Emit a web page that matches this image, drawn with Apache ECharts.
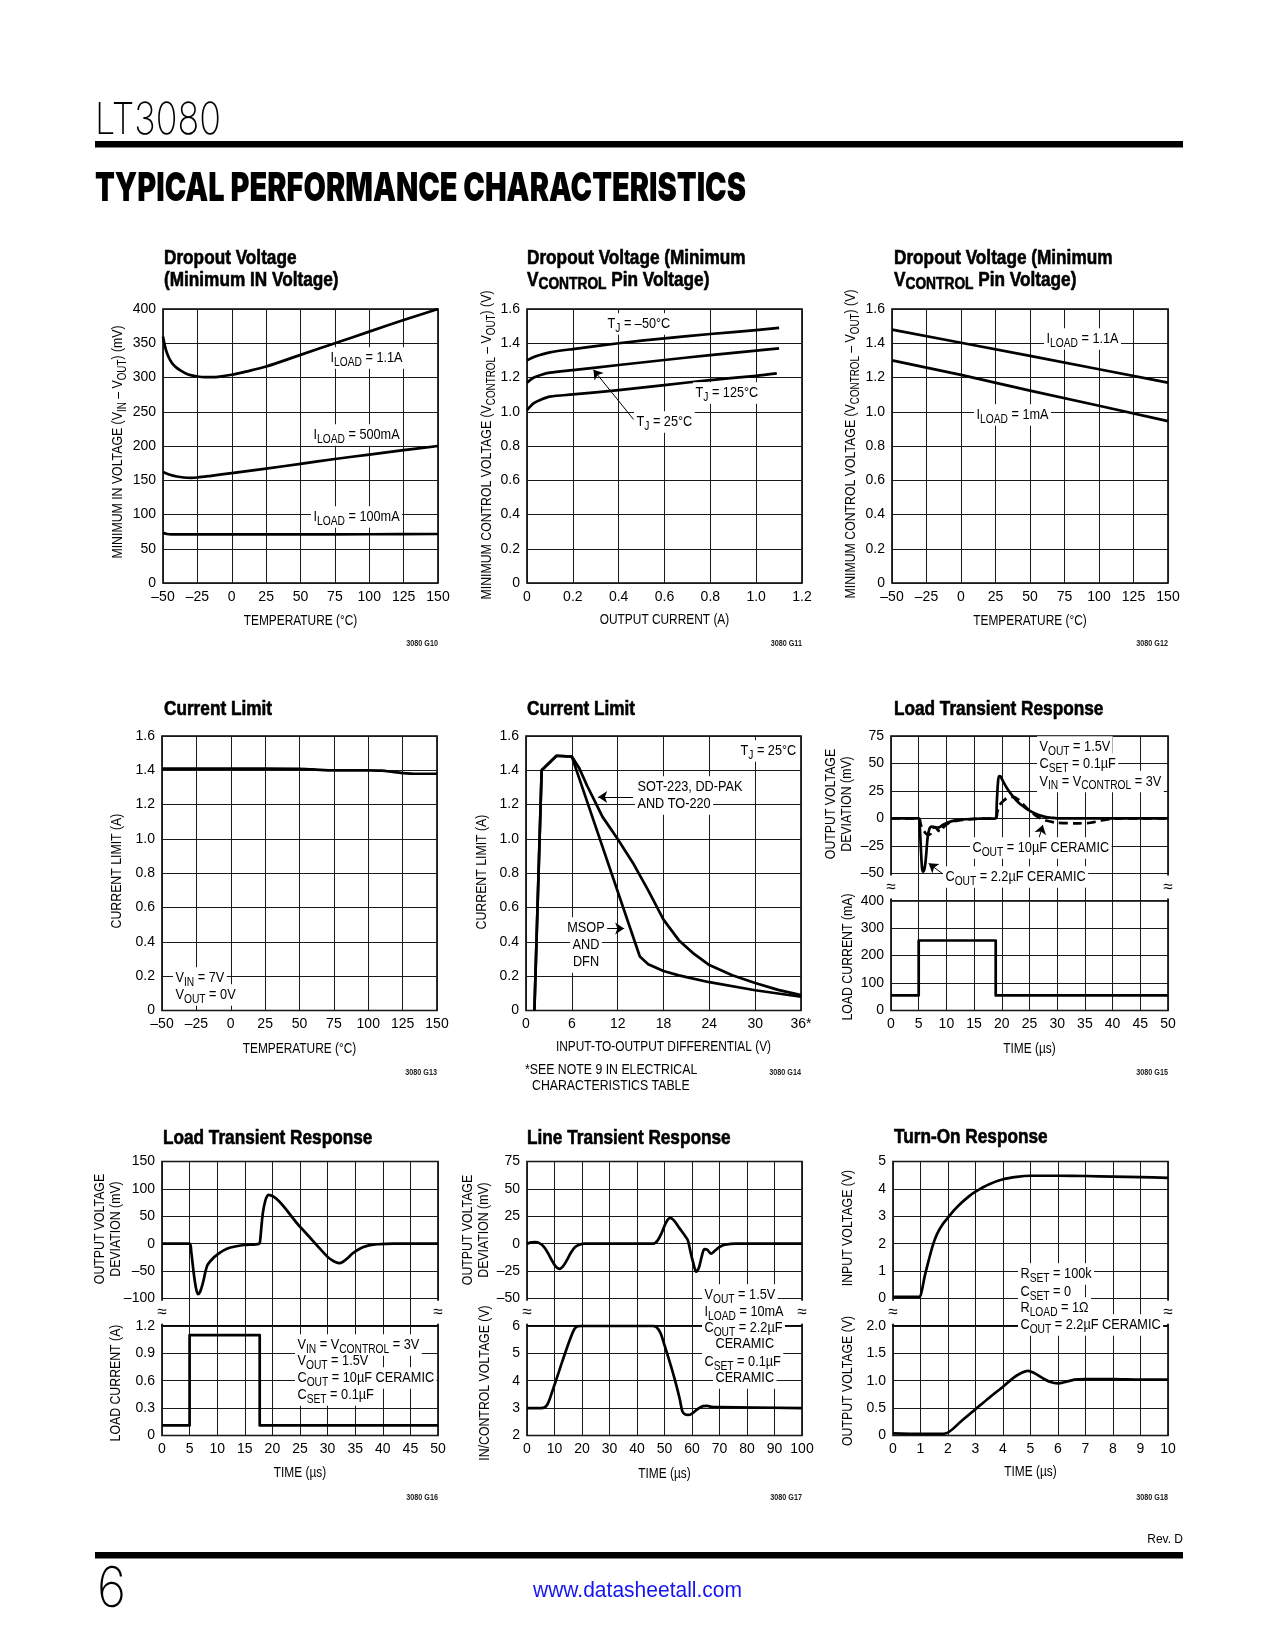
<!DOCTYPE html>
<html><head><meta charset="utf-8">
<script src="https://cdn.jsdelivr.net/npm/echarts@6/dist/echarts.min.js"></script>
<style>html,body{margin:0;padding:0;background:#fff}#c{width:1275px;height:1650px}</style>
</head><body><div id="c"></div>
<script>
// ================= DATA =================
// Chart 1: Dropout voltage (minimum IN voltage) vs temperature
const c1Load1A1 = [[-50,360],[-48.5,345],[-47,335],[-45,326],[-43,320],[-40,314],[-37,310],[-33,305.5],[-30,303.5],[-25,301.5],[-20,300.5],[-15,300.5],[-10,301],[0,304],[10,308.5],[25,316],[50,333],[75,350],[100,367],[125,384],[150,400]];
const c1Load500m = [[-50,162],[-45,158],[-40,155.5],[-35,154],[-30,153.5],[-25,154],[-15,156.5],[0,160.5],[25,167],[50,174],[75,181],[100,187.5],[125,194],[150,200]];
const c1Load100m = [[-50,73.5],[-47,71.5],[-44,71],[0,71],[50,71],[100,71.2],[150,71.5]];
// Chart 2: Min VCONTROL vs output current
const c2TjM50 = [[0,1.30],[0.03,1.32],[0.06,1.333],[0.1,1.347],[0.2,1.366],[0.4,1.40],[0.6,1.429],[0.8,1.454],[1.0,1.477],[1.1,1.49]];
const c2Tj25 = [[0,1.17],[0.03,1.20],[0.06,1.215],[0.1,1.228],[0.2,1.243],[0.4,1.273],[0.6,1.302],[0.8,1.331],[1.0,1.357],[1.1,1.37]];
const c2Tj125 = [[0,1.01],[0.03,1.05],[0.06,1.07],[0.1,1.088],[0.2,1.101],[0.4,1.126],[0.6,1.156],[0.8,1.185],[1.0,1.21],[1.09,1.224]];
// Chart 3: Min VCONTROL vs temperature
const c3Load1A1 = [[-50,1.48],[0,1.403],[50,1.326],[100,1.248],[150,1.17]];
const c3Load1mA = [[-50,1.30],[0,1.215],[50,1.123],[100,1.035],[150,0.945]];
// Chart 4: Current limit vs temperature
const c4Limit = [[-50,1.41],[0,1.41],[50,1.408],[60,1.405],[75,1.40],[100,1.40],[110,1.398],[118,1.39],[125,1.384],[135,1.38],[150,1.38]];
// Chart 5: Current limit vs input-output differential
const c5Sot = [[1.1,0],[2.05,1.40],[4.0,1.485],[6.0,1.48],[7,1.41],[8,1.31],[9,1.22],[10,1.13],[12,1.0],[14,0.86],[16,0.70],[18,0.53],[20,0.41],[22,0.33],[24,0.265],[27,0.205],[30,0.16],[33,0.12],[36,0.09]];
const c5Msop = [[1.1,0],[2.05,1.40],[4.0,1.485],[6.0,1.48],[14.9,0.315],[16,0.27],[18,0.23],[20,0.205],[24,0.165],[30,0.118],[36,0.08]];
const c5XTickLabels = ['0','6','12','18','24','30','36*'];
// Chart 6: Load transient (output deviation mV, load current mA)
const c6Vout22 = [[0,0],[5,0],[5.2,-8],[5.4,-28],[5.6,-45],[5.8,-48.5],[6.0,-47],[6.2,-41],[6.4,-30],[6.6,-18],[6.9,-10],[7.3,-7.5],[7.8,-8],[8.5,-8.5],[9.5,-5.5],[11,-2.5],[13,-1],[16,-0.3],[18.9,0],[19.1,15],[19.3,32],[19.5,38.5],[19.8,38],[20.3,33],[21,27],[22,20],[23,14.5],[24,10.5],[25,7],[26,4.5],[27,2.5],[28,1.2],[29,0.5],[30,0],[50,0]];
const c6Vout10 = [[0,0],[5,0],[5.4,-6],[6,-12],[6.6,-15],[7.2,-14],[7.6,-9],[8.0,-8],[8.5,-11],[9,-12],[9.5,-8],[10.5,-4],[12,-2],[15,-0.5],[18.9,0],[19.2,6],[19.6,12],[20.3,16],[21,18.5],[22,19.5],[23,17],[24,12],[25,7],[26,3],[27,0],[28,-2],[30,-4],[34,-4.5],[36,-4],[38,-2],[40,-0.5],[42,0],[50,0]];
const c6Iload = [[0,55],[5,55],[5,255],[18.9,255],[18.9,55],[50,55]];
// Chart 7: Load transient (10uF)
const c7Vout = [[0,0],[5,0],[5.3,-15],[5.7,-50],[6.1,-78],[6.5,-92],[6.9,-88],[7.4,-72],[8.2,-40],[9.2,-27],[10,-20],[11,-13],[12.4,-7],[14.8,-2.4],[17.6,0],[17.8,8],[18.0,30],[18.3,58],[18.7,78],[19.0,86],[19.3,89],[25,31],[30,-24],[30.8,-30],[31.5,-34],[32.1,-35.5],[32.8,-33],[33.6,-26.5],[34.5,-18],[35.5,-11],[36.5,-6],[37.5,-3],[39,-1],[42,0],[50,0]];
const c7Iload = [[0,0.11],[5,0.11],[5,1.1],[17.7,1.1],[17.7,0.11],[50,0.11]];
// Chart 8: Line transient
const c8Vout = [[0,0],[1.5,1.2],[3,1.5],[4.5,0.5],[6,-2.5],[7.5,-8],[9,-15],[10.5,-21],[11.8,-23],[13,-21],[14.5,-15],[16,-8],[17.5,-3],[19,-1],[21,0],[46,0],[47.5,3],[49,10],[50.5,19],[52,23.5],[53.5,21],[55.5,14],[57.5,7],[58.5,3],[59.5,-8],[60.5,-18],[61.5,-25.5],[62.5,-22],[63.5,-12],[64.5,-5],[65.5,-5.5],[67,-9],[68.5,-6],[70,-3],[72,-1],[76,0],[100,0]];
const c8Vin = [[0,3.0],[5,3.0],[6.5,3.03],[7.5,3.15],[8.5,3.4],[10,3.85],[12,4.45],[14,5.05],[16,5.6],[17.2,5.88],[18.5,5.99],[20,6.0],[45.5,6.0],[47,5.96],[48.5,5.75],[50,5.3],[52,4.65],[54,3.95],[55.5,3.35],[56.5,2.88],[57.5,2.77],[58.5,2.75],[60,2.8],[62,2.96],[64,3.07],[65.5,3.08],[67,3.05],[70,3.04],[100,3.0]];
// Chart 9: Turn-on response
const c9Vin = [[0,0.06],[0.95,0.06],[1.05,0.3],[1.15,0.8],[1.3,1.4],[1.45,1.95],[1.6,2.35],[1.8,2.7],[2.0,2.95],[2.25,3.25],[2.5,3.5],[2.75,3.72],[3.0,3.9],[3.5,4.17],[4.0,4.35],[4.5,4.44],[5,4.48],[6,4.48],[7,4.47],[8,4.45],[9,4.43],[10,4.4]];
const c9Vout = [[0,0.04],[1,0.03],[1.85,0.03],[2.5,0.27],[3,0.48],[3.5,0.69],[4,0.89],[4.4,1.06],[4.7,1.15],[4.9,1.18],[5.1,1.15],[5.4,1.06],[5.7,0.98],[6.0,0.95],[6.3,0.98],[6.6,1.02],[7,1.03],[8,1.03],[9,1.02],[10,1.02]];

// ================= STYLE / HELPERS =================
const SANS = '"Liberation Sans", Arial, sans-serif';
const NARROW = 0.82;
const TICK = 14;
const fmtNum = v => String(+v.toFixed(6)).replace('-', '\u2013');
const fmtDec = v => Math.abs(v) < 1e-9 ? '0' : v.toFixed(1);
const hideAt = (h, f) => v => Math.abs(v - h) < 1e-6 ? '' : f(v);

const grids = [], xAxes = [], yAxes = [], series = [];
function axis(i, min, max, interval, fmt, show) {
  return { type:'value', gridIndex:i, min, max, interval,
    axisLine:{show:false}, axisTick:{show:false},
    splitLine:{show:true, lineStyle:{color:'#1a1a1a', width:1}},
    axisLabel:{show: show !== false, formatter: fmt, fontFamily: SANS, fontSize: TICK, color:'#000', margin: 7} };
}
function panel(l, t, w, h, xa, ya) {
  const i = grids.length;
  grids.push({left:l, top:t, width:w, height:h, show:true, borderColor:'#000', borderWidth:1.6, backgroundColor:'rgba(0,0,0,0)'});
  xAxes.push(axis(i, xa[0], xa[1], xa[2], xa[3], xa[4]));
  yAxes.push(axis(i, ya[0], ya[1], ya[2], ya[3], ya[4]));
  return i;
}
function line(i, data, o) {
  o = o || {};
  const s = { type:'line', xAxisIndex:i, yAxisIndex:i, data, showSymbol:false, symbol:'none',
    smooth: o.smooth === undefined ? 0.3 : o.smooth, clip:true, silent:true, z:5,
    lineStyle:{color:'#000', width:2.7, type: o.dash ? [9,5] : 'solid', join:'round'} };
  if (o.arrows) {
    s.markLine = { silent:true, symbol:['none','arrow'], symbolSize:9, animation:false,
      lineStyle:{color:'#000', width:1, type:'solid'}, itemStyle:{color:'#000'}, label:{show:false},
      emphasis:{disabled:true},
      data: o.arrows.map(a => [{coord:a[0]}, {coord:a[1]}]) };
  }
  series.push(s);
}
function rt(s) {
  let out = '', last = 0, m; const re = /_\{([^}]*)\}/g;
  while ((m = re.exec(s))) {
    if (m.index > last) out += '{m|' + s.slice(last, m.index) + '}';
    out += '{s|' + m[1] + '}'; last = re.lastIndex;
  }
  if (last < s.length) out += '{m|' + s.slice(last) + '}';
  return out;
}
function T(x, y, s, o) {
  o = o || {};
  const size = o.size || 15, sub = o.sub || Math.round(size * 0.8);
  const wt = o.weight || 'normal', fam = o.family || SANS, col = o.color || '#000';
  const drop = o.drop !== undefined ? o.drop : size * 0.18;
  const shift = drop + 0.35 * (size - sub);
  const L = size + 6, h = Math.max(2, L - 2 * shift);
  const strk = o.stroke ? {stroke: col, lineWidth: o.stroke} : {};
  return { type:'text', x, y, rotation: o.rot || 0, scaleX: o.sx || NARROW, z: o.z || 50, silent: true,
    style: { text: rt(s), align: o.align || 'left', verticalAlign: 'middle', fill: col,
      backgroundColor: o.bg || 'transparent', padding: o.pad || 0,
      rich: { m: Object.assign({fontSize:size, fontFamily:fam, fontWeight:wt, lineHeight:L, verticalAlign:'middle', fill:col}, strk),
              s: Object.assign({fontSize:sub, fontFamily:fam, fontWeight:wt, lineHeight:h, verticalAlign:'bottom', fill:col}, strk) } } };
}
const mctx = document.createElement('canvas').getContext('2d');
function fit(text, font, target) { mctx.font = font; return target / mctx.measureText(text).width; }
function P(x, y, text, font, color, align, target) {
  return { type:'text', x, y, scaleX: target ? fit(text, font, target) : 1, z:50, silent:true,
    style:{ text, font, fill: color, align: align || 'left', verticalAlign:'middle' } };
}
function rect(x, y, w, h) { return {type:'rect', shape:{x, y, width:w, height:h}, style:{fill:'#000'}, z:50, silent:true}; }

const els = [];
// annotation: white box (drawn first, lower z) + text on top
function ann(x, y, s, extra) {
  const o = Object.assign({size:15.5, sub:12.5, pad:[0,3]}, extra || {});
  const bg = T(x, y, s, Object.assign({}, o, {bg:'#fff', color:'rgba(0,0,0,0)', z:45}));
  const fg = T(x, y, s, o);
  return [bg, fg];
}
const yname = (x, y, s) => T(x, y, s, {size:15, sub:12, rot:Math.PI/2, align:'center'});
const xname = (x, y, s) => T(x, y, s, {size:14.5, align:'center'});
const title = (x, y, s) => T(x, y, s, {size:20, sub:16, weight:'bold', drop:4, sx:0.86, stroke:0.6});
const figId = (x, y, s) => T(x, y, s, {size:8.5, align:'right', weight:'bold', color:'#222', sx:0.85});
const brk = (x, y) => T(x, y, '\u2248', {size:17, align:'center', bg:'#fff', pad:[0,1], sx:1});
const add = (...a) => a.forEach(e => Array.isArray(e) ? els.push(...e) : els.push(e));

// ================= CHARTS =================
// Row 1
const R1 = 309, H1 = 274;
let g;
g = panel(163, R1, 275, H1, [-50,150,25,fmtNum], [0,400,50,fmtNum]);
line(g, c1Load1A1); line(g, c1Load500m); line(g, c1Load100m);
add(title(164,258,'Dropout Voltage'), title(164,280,'(Minimum IN Voltage)'));
add(ann(328,358,'I_{LOAD} = 1.1A'), ann(311,435,'I_{LOAD} = 500mA'), ann(311,517,'I_{LOAD} = 100mA'));
add(yname(118,442,'MINIMUM IN VOLTAGE (V_{IN} \u2013 V_{OUT}) (mV)'), xname(300.5,621,'TEMPERATURE (\u00B0C)'), figId(438,644,'3080 G10'));

g = panel(527, R1, 275, H1, [0,1.2,0.2,fmtDec], [0,1.6,0.2,fmtDec]);
line(g, c2TjM50); line(g, c2Tj25, {arrows:[[[0.465,0.955],[0.29,1.245]]]}); line(g, c2Tj125);
add(title(527,258,'Dropout Voltage (Minimum'), title(527,280,'V_{CONTROL} Pin Voltage)'));
add(ann(605,324,'T_{J} = \u201350\u00B0C'), ann(693,393,'T_{J} = 125\u00B0C'), ann(634,422,'T_{J} = 25\u00B0C'));
add(yname(487,445,'MINIMUM CONTROL VOLTAGE (V_{CONTROL} \u2013 V_{OUT}) (V)'), xname(664.5,620,'OUTPUT CURRENT (A)'), figId(802,644,'3080 G11'));

g = panel(892, R1, 276, H1, [-50,150,25,fmtNum], [0,1.6,0.2,fmtDec]);
line(g, c3Load1A1, {smooth:false}); line(g, c3Load1mA, {smooth:false});
add(title(894,258,'Dropout Voltage (Minimum'), title(894,280,'V_{CONTROL} Pin Voltage)'));
add(ann(1044,339,'I_{LOAD} = 1.1A'), ann(974,415,'I_{LOAD} = 1mA'));
add(yname(851,444,'MINIMUM CONTROL VOLTAGE (V_{CONTROL} \u2013 V_{OUT}) (V)'), xname(1030,621,'TEMPERATURE (\u00B0C)'), figId(1168,644,'3080 G12'));

// Row 2
const R2 = 736, H2 = 274.5;
g = panel(162, R2, 275, H2, [-50,150,25,fmtNum], [0,1.6,0.2,fmtDec]);
line(g, c4Limit);
add(title(164,709.5,'Current Limit'));
add(ann(173,978,'V_{IN} = 7V'), ann(173,995,'V_{OUT} = 0V'));
add(yname(117,871,'CURRENT LIMIT (A)'), xname(299.5,1049,'TEMPERATURE (\u00B0C)'), figId(437,1073,'3080 G13'));

g = panel(526, R2, 275, H2, [0,36,6,v => c5XTickLabels[Math.round(v/6)]], [0,1.6,0.2,fmtDec]);
line(g, c5Sot, {smooth:false, arrows:[[[14.0,1.245],[9.45,1.245]]]});
line(g, c5Msop, {smooth:false, arrows:[[[10.1,0.478],[12.85,0.478]]]});
add(title(527,709,'Current Limit'));
add(ann(738,751,'T_{J} = 25\u00B0C'), ann(635,787,'SOT-223, DD-PAK'), ann(635,804,'AND TO-220'));
add(ann(586,928,'MSOP',{align:'center'}), ann(586,945,'AND',{align:'center'}), ann(586,962,'DFN',{align:'center'}));
add(yname(482,872,'CURRENT LIMIT (A)'), xname(663.5,1047,'INPUT-TO-OUTPUT DIFFERENTIAL (V)'), figId(801,1073,'3080 G14'));
add(T(525,1070,'*SEE NOTE 9 IN ELECTRICAL',{size:15}), T(532,1086,'CHARACTERISTICS TABLE',{size:15}));

let gt, gb;
gt = panel(891, R2, 277, H2*0.6, [0,50,5,fmtNum,false], [-75,75,25,hideAt(-75,fmtNum)]);
gb = panel(891, R2+H2*0.6, 277, H2*0.4, [0,50,5,fmtNum], [0,400,100,fmtNum]);
line(gt, c6Vout10, {dash:true, arrows:[[[26.6,-20],[27.4,-6]]]});
line(gt, c6Vout22, {arrows:[[[9.2,-50],[6.8,-41]]]});
line(gb, c6Iload, {smooth:false});
add(title(894,709.5,'Load Transient Response'));
add(ann(1037,747,'V_{OUT} = 1.5V'), ann(1037,764,'C_{SET} = 0.1\u00B5F'), ann(1037,781.5,'V_{IN} = V_{CONTROL} = 3V'));
add(ann(970,848,'C_{OUT} = 10\u00B5F CERAMIC'), ann(943,877,'C_{OUT} = 2.2\u00B5F CERAMIC'));
add(yname(831,804,'OUTPUT VOLTAGE'), yname(847,804,'DEVIATION (mV)'), yname(848,957,'LOAD CURRENT (mA)'));
add(xname(1029.5,1049,'TIME (\u00B5s)'), figId(1168,1073,'3080 G15'));
add(brk(891, R2+H2*0.55), brk(1168, R2+H2*0.55));

// Row 3
const R3 = 1161.5, H3 = 274;
gt = panel(162, R3, 276, H3*0.6, [0,50,5,fmtNum,false], [-150,150,50,hideAt(-150,fmtNum)]);
gb = panel(162, R3+H3*0.6, 276, H3*0.4, [0,50,5,fmtNum], [0,1.2,0.3,fmtDec]);
line(gt, c7Vout); line(gb, c7Iload, {smooth:false});
add(title(163,1138,'Load Transient Response'));
add(ann(295,1345,'V_{IN} = V_{CONTROL} = 3V'), ann(295,1361,'V_{OUT} = 1.5V'), ann(295,1378,'C_{OUT} = 10\u00B5F CERAMIC'), ann(295,1395,'C_{SET} = 0.1\u00B5F'));
add(yname(100,1229,'OUTPUT VOLTAGE'), yname(116,1229,'DEVIATION (mV)'), yname(116,1383,'LOAD CURRENT (A)'));
add(xname(300,1473,'TIME (\u00B5s)'), figId(438,1498,'3080 G16'));
add(brk(162, R3+H3*0.55), brk(438, R3+H3*0.55));

gt = panel(527, R3, 275, H3*0.6, [0,100,10,fmtNum,false], [-75,75,25,hideAt(-75,fmtNum)]);
gb = panel(527, R3+H3*0.6, 275, H3*0.4, [0,100,10,fmtNum], [2,6,1,fmtNum]);
line(gt, c8Vout); line(gb, c8Vin);
add(title(527,1138,'Line Transient Response'));
add(ann(702,1295,'V_{OUT} = 1.5V'), ann(702,1312,'I_{LOAD} = 10mA'), ann(702,1328,'C_{OUT} = 2.2\u00B5F'), ann(713,1344,'CERAMIC'), ann(702,1362,'C_{SET} = 0.1\u00B5F'), ann(713,1378,'CERAMIC'));
add(yname(468,1230,'OUTPUT VOLTAGE'), yname(484,1230,'DEVIATION (mV)'), yname(485,1383,'IN/CONTROL VOLTAGE (V)'));
add(xname(664.5,1474,'TIME (\u00B5s)'), figId(802,1498,'3080 G17'));
add(brk(527, R3+H3*0.55), brk(802, R3+H3*0.55));

gt = panel(893, R3, 275, H3*0.6, [0,10,1,fmtNum,false], [-1,5,1,hideAt(-1,fmtNum)]);
gb = panel(893, R3+H3*0.6, 275, H3*0.4, [0,10,1,fmtNum], [0,2,0.5,fmtDec]);
line(gt, c9Vin); line(gb, c9Vout);
add(title(894,1137,'Turn-On Response'));
add(ann(1018,1274,'R_{SET} = 100k'), ann(1018,1292,'C_{SET} = 0'), ann(1018,1308,'R_{LOAD} = 1\u03A9'), ann(1018,1325,'C_{OUT} = 2.2\u00B5F CERAMIC'));
add(yname(848,1228,'INPUT VOLTAGE (V)'), yname(848,1381,'OUTPUT VOLTAGE (V)'));
add(xname(1030.5,1472,'TIME (\u00B5s)'), figId(1168,1498,'3080 G18'));
add(brk(893, R3+H3*0.55), brk(1168, R3+H3*0.55));

// ================= PAGE FURNITURE =================
add(P(95,121,'LT3080','200 44px Inter, "DejaVu Sans", sans-serif','#000','left',126));
add(rect(95,141,1088,6.5));
add(P(95,188.5,'TYPICAL PERFORMANCE CHARACTERISTICS','900 40px Inter, "DejaVu Sans", sans-serif','#000','left',651));
add(P(1183,1540,'Rev. D','12px ' + SANS,'#000','right'));
add(rect(95,1552,1088,6.5));
add(P(97,1590,'6','200 56px Inter, "DejaVu Sans", sans-serif','#000','left',29));
add(P(637.5,1591,'www.datasheetall.com','22px ' + SANS,'#1515f0','center',209));

const chart = echarts.init(document.getElementById('c'), null, {renderer:'canvas'});
chart.setOption({ animation:false, backgroundColor:'#fff', grid:grids, xAxis:xAxes, yAxis:yAxes, series, graphic:{elements:els} });
</script></body></html>
